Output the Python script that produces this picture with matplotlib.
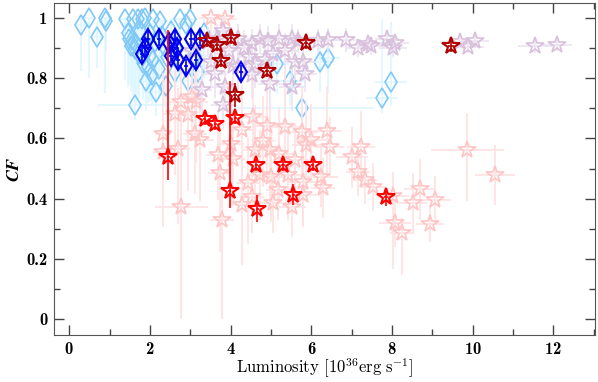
import matplotlib
matplotlib.use("Agg")
import matplotlib.pyplot as plt
from matplotlib.ticker import MultipleLocator
import numpy as np

plt.rcParams['mathtext.fontset'] = 'cm'
plt.rcParams['font.family'] = 'cmr10'
plt.rcParams['axes.formatter.use_mathtext'] = True

######################################################################
# data

# light blue diamonds
lb_x = [0.30, 0.48, 0.88, 0.90, 0.69, 1.37, 1.48, 1.58, 1.62, 1.62, 1.66, 1.70, 1.81, 1.87,
        1.91, 1.95, 1.99, 2.08, 2.08, 2.16, 2.24, 2.36, 2.61, 2.74, 2.90, 2.99, 3.11, 3.18,
        5.14, 5.47, 5.76, 6.21, 6.42, 7.76, 7.97, 1.45, 1.55, 1.75, 2.00, 2.12, 2.30, 2.42,
        2.22, 2.52, 1.72, 1.82, 2.05, 2.40, 3.35, 2.95, 1.52, 2.65]
lb_y = [0.975, 1.00, 1.00, 0.99, 0.935, 0.995, 0.93, 0.995, 0.897, 0.71, 0.913, 0.995, 0.995, 1.00,
        0.79, 0.837, 0.875, 0.86, 0.995, 0.753, 0.99, 0.908, 0.82, 0.995, 0.98, 0.995, 0.875, 0.82,
        0.847, 0.79, 0.70, 0.853, 0.867, 0.735, 0.787, 0.95, 0.925, 0.955, 0.945, 0.92, 0.94, 0.87,
        0.83, 0.955, 0.88, 0.85, 0.81, 0.775, 0.95, 0.79, 0.905, 0.90]
lb_xerr = [0.10, 0.10, 0.10, 0.10, 0.15, 0.15, 0.20, 0.15, 0.20, 0.90, 0.20, 0.15, 0.20, 0.20,
           0.20, 0.25, 0.20, 0.25, 0.20, 0.30, 0.20, 0.25, 0.30, 0.20, 0.25, 0.20, 0.30, 0.30,
           0.30, 0.40, 1.80, 0.35, 0.30, 0.40, 0.40, 0.20, 0.20, 0.20, 0.25, 0.25, 0.30, 0.30,
           0.30, 0.25, 0.20, 0.20, 0.25, 0.30, 0.40, 0.30, 0.20, 0.25]
lb_ylo = [0.15, 0.20, 0.25, 0.10, 0.10, 0.20, 0.15, 0.25, 0.15, 0.05, 0.20, 0.25, 0.20, 0.20,
          0.10, 0.12, 0.15, 0.10, 0.22, 0.08, 0.15, 0.20, 0.10, 0.20, 0.15, 0.12, 0.12, 0.10,
          0.10, 0.08, 0.05, 0.10, 0.12, 0.05, 0.08, 0.18, 0.15, 0.15, 0.20, 0.15, 0.15, 0.12,
          0.10, 0.10, 0.15, 0.12, 0.10, 0.08, 0.15, 0.10, 0.15, 0.12]
lb_yhi = [0.03, 0.00, 0.00, 0.01, 0.05, 0.00, 0.05, 0.00, 0.05, 0.05, 0.05, 0.00, 0.00, 0.00,
          0.05, 0.05, 0.05, 0.05, 0.00, 0.05, 0.01, 0.05, 0.05, 0.00, 0.02, 0.00, 0.05, 0.05,
          0.05, 0.05, 0.05, 0.05, 0.05, 0.26, 0.20, 0.05, 0.05, 0.04, 0.05, 0.05, 0.05, 0.05,
          0.05, 0.04, 0.05, 0.05, 0.05, 0.05, 0.05, 0.05, 0.05, 0.05]

# blue diamonds
db_x = [1.80, 1.87, 1.94, 2.22, 2.47, 2.53, 2.62, 2.66, 2.70, 2.90, 3.01, 3.13, 3.25, 4.25]
db_y = [0.88, 0.90, 0.93, 0.93, 0.915, 0.875, 0.93, 0.90, 0.86, 0.84, 0.93, 0.86, 0.93, 0.82]
db_xerr = [0.05] * len(db_x)
db_yerr = [0.025] * len(db_x)

# light pink stars
pk_x = [2.78, 3.03, 3.15, 2.61, 2.95, 2.32, 3.11, 2.70, 3.23, 2.33, 3.69, 4.06, 3.73, 2.78,
        3.78, 4.56, 4.27, 4.02, 4.81, 4.97, 5.34, 5.76, 5.88, 4.72, 4.43, 5.01, 5.18, 5.43,
        5.80, 4.27, 5.05, 5.51, 4.52, 6.00, 6.40, 6.46, 7.00, 7.23, 7.16, 7.33, 7.54, 6.25,
        6.29, 5.80, 8.03, 8.07, 8.24, 8.53, 8.69, 9.06, 8.94, 9.87, 10.55, 3.52, 3.85, 4.90,
        5.20, 4.60, 5.60]
pk_y = [0.72, 0.737, 0.72, 0.68, 0.677, 0.616, 0.616, 0.566, 0.594, 0.556, 0.545, 0.533, 0.484, 0.374,
        0.33, 0.672, 0.627, 0.583, 0.59, 0.561, 0.638, 0.622, 0.578, 0.479, 0.451, 0.473, 0.429, 0.479,
        0.456, 0.38, 0.385, 0.374, 0.407, 0.594, 0.625, 0.572, 0.537, 0.572, 0.49, 0.462, 0.438, 0.473,
        0.435, 0.413, 0.408, 0.319, 0.286, 0.385, 0.431, 0.396, 0.317, 0.563, 0.479, 1.00, 0.995, 0.64,
        0.55, 0.56, 0.53]
pk_xerr = [0.30, 0.25, 0.30, 0.30, 0.25, 0.20, 0.30, 0.30, 0.35, 0.25, 0.30, 0.30, 0.30, 0.65,
           0.30, 0.35, 0.30, 0.30, 0.30, 0.35, 0.40, 0.40, 0.35, 0.30, 0.30, 0.35, 0.30, 0.35,
           0.40, 0.30, 0.35, 0.35, 0.30, 0.40, 0.35, 0.35, 0.40, 0.35, 0.30, 0.30, 0.30, 0.40,
           0.30, 0.35, 0.40, 0.40, 0.30, 0.35, 0.40, 0.40, 0.35, 0.90, 0.50, 0.30, 0.30, 0.35,
           0.35, 0.30, 0.35]
pk_ylo = [0.15, 0.12, 0.20, 0.20, 0.25, 0.15, 0.20, 0.25, 0.20, 0.25, 0.15, 0.15, 0.26, 0.374,
          0.33, 0.15, 0.15, 0.20, 0.15, 0.20, 0.15, 0.15, 0.15, 0.15, 0.20, 0.15, 0.10, 0.15,
          0.15, 0.20, 0.10, 0.10, 0.12, 0.12, 0.15, 0.10, 0.10, 0.12, 0.08, 0.08, 0.08, 0.10,
          0.10, 0.10, 0.24, 0.08, 0.14, 0.10, 0.10, 0.08, 0.06, 0.17, 0.10, 0.20, 0.25, 0.15,
          0.15, 0.15, 0.12]
pk_yhi = [0.15, 0.12, 0.20, 0.20, 0.20, 0.20, 0.20, 0.20, 0.20, 0.20, 0.15, 0.15, 0.15, 0.25,
          0.10, 0.15, 0.15, 0.15, 0.15, 0.15, 0.20, 0.15, 0.15, 0.15, 0.15, 0.15, 0.10, 0.15,
          0.15, 0.15, 0.10, 0.10, 0.12, 0.12, 0.15, 0.10, 0.10, 0.12, 0.08, 0.08, 0.08, 0.10,
          0.10, 0.10, 0.08, 0.08, 0.05, 0.10, 0.10, 0.08, 0.06, 0.12, 0.10, 0.00, 0.01, 0.15,
          0.15, 0.15, 0.12]

# light purple stars
pu_x = [3.03, 3.30, 3.52, 3.61, 3.81, 3.81, 3.85, 4.19, 4.19, 4.33, 4.52, 4.52, 4.60, 4.72,
        4.93, 4.97, 5.34, 5.51, 5.51, 5.59, 5.67, 5.80, 5.84, 6.17, 6.42, 6.87, 7.16, 7.41,
        7.49, 7.87, 8.03, 8.07, 9.69, 9.89, 10.06, 11.55, 12.08, 5.05, 4.45, 4.85, 3.95, 4.05,
        3.65, 5.20, 3.45]
pu_y = [0.89, 0.762, 0.853, 0.814, 0.955, 0.71, 0.77, 0.93, 0.837, 0.90, 0.913, 0.81, 0.847, 0.93,
        0.924, 0.78, 0.89, 0.93, 0.77, 0.853, 0.924, 0.853, 0.814, 0.924, 0.926, 0.927, 0.90, 0.914,
        0.908, 0.93, 0.90, 0.916, 0.92, 0.902, 0.922, 0.905, 0.911, 0.88, 0.87, 0.86, 0.89, 0.84,
        0.93, 0.93, 0.92]
pu_xerr = [0.25, 0.25, 0.30, 0.30, 0.25, 0.30, 0.30, 0.30, 0.30, 0.30, 0.30, 0.30, 0.30, 0.30,
           0.30, 0.30, 0.35, 0.30, 0.30, 0.30, 0.35, 0.30, 0.30, 0.30, 0.30, 0.35, 0.30, 0.35,
           0.35, 0.30, 0.35, 0.35, 0.50, 0.40, 0.35, 0.42, 0.38, 0.30, 0.30, 0.30, 0.25, 0.25,
           0.25, 0.30, 0.25]
pu_yerr = [0.08, 0.08, 0.08, 0.08, 0.05, 0.08, 0.08, 0.05, 0.08, 0.06, 0.05, 0.08, 0.08, 0.05,
           0.05, 0.08, 0.06, 0.05, 0.08, 0.06, 0.04, 0.06, 0.06, 0.04, 0.04, 0.04, 0.03, 0.03,
           0.03, 0.03, 0.03, 0.03, 0.02, 0.02, 0.02, 0.02, 0.02, 0.06, 0.06, 0.06, 0.06, 0.06,
           0.05, 0.05, 0.05]

# dark red stars
dr_x = [3.42, 3.67, 4.02, 3.75, 4.91, 5.86, 4.10, 9.46]
dr_y = [0.922, 0.911, 0.933, 0.857, 0.825, 0.915, 0.745, 0.908]
dr_xerr = [0.05, 0.05, 0.05, 0.05, 0.05, 0.05, 0.05, 0.08]
dr_yerr = [0.02, 0.02, 0.02, 0.02, 0.02, 0.02, 0.04, 0.02]

# red stars
rd_x = [2.45, 3.36, 3.62, 4.12, 3.98, 4.64, 5.30, 6.03, 5.55, 4.66, 7.85]
rd_y = [0.539, 0.666, 0.649, 0.667, 0.424, 0.512, 0.512, 0.512, 0.413, 0.367, 0.406]
rd_xerr = [0.04] * len(rd_x)
rd_ylo = [0.077, 0.02, 0.02, 0.02, 0.055, 0.02, 0.02, 0.02, 0.035, 0.045, 0.03]
rd_yhi = [0.42, 0.02, 0.02, 0.02, 0.366, 0.02, 0.02, 0.02, 0.035, 0.045, 0.03]

######################################################################

fig = plt.figure(figsize=(5.98, 3.82), dpi=100)
ax = fig.add_axes([0.0908, 0.123, 0.904, 0.869])


def draw(ax, x, y, xerr, yerr, marker, ms, mcol, ecol, mew=1.2):
    ax.errorbar(x, y, xerr=xerr, yerr=yerr, fmt='none', ecolor=ecol,
                elinewidth=1.2, capsize=0)
    ax.plot(x, y, linestyle='none', marker=marker, markersize=ms,
            markerfacecolor='none', markeredgecolor=mcol, markeredgewidth=mew)


draw(ax, lb_x, lb_y, lb_xerr, [lb_ylo, lb_yhi], 'd', 10.5, '#80C8F8', '#DDF6FF')
draw(ax, pk_x, pk_y, pk_xerr, [pk_ylo, pk_yhi], '*', 13, '#FFC4C4', '#FFE2E2')
draw(ax, pu_x, pu_y, pu_xerr, pu_yerr, '*', 13, '#D9C0DC', '#ECE4F2')
draw(ax, db_x, db_y, db_xerr, db_yerr, 'd', 10, '#0000EE', '#0000EE', 1.5)
draw(ax, rd_x, rd_y, rd_xerr, [rd_ylo, rd_yhi], '*', 13, '#FF0000', '#FF0000', 1.5)
draw(ax, dr_x, dr_y, dr_xerr, dr_yerr, '*', 13, '#B00000', '#B00000', 1.5)

ax.set_xlim(-0.372, 13.03)
ax.set_ylim(-0.052, 1.049)
ax.xaxis.set_major_locator(MultipleLocator(2))
ax.xaxis.set_minor_locator(MultipleLocator(1))
ax.yaxis.set_major_locator(MultipleLocator(0.2))
ax.yaxis.set_minor_locator(MultipleLocator(0.1))
ax.tick_params(which='both', direction='in', top=True, right=True, color='#444444')
ax.tick_params(which='major', length=7.5, width=1)
ax.tick_params(which='minor', length=4.5, width=1)
ax.tick_params(axis='y', which='major', pad=5)
ax.tick_params(axis='x', which='major', pad=4)
for s in ax.spines.values():
    s.set_color('#555555')

ax.set_yticks([0, 0.2, 0.4, 0.6, 0.8, 1.0])
ax.set_yticklabels(['0', '0.2', '0.4', '0.6', '0.8', '1'])
for lab in ax.get_xticklabels() + ax.get_yticklabels():
    lab.set_fontfamily('cmb10')
    lab.set_fontsize(12)

ax.set_xlabel(r'Luminosity $[10^{36}\mathrm{erg\ s}^{-1}]$', fontsize=12, labelpad=0)
ax.set_ylabel('CF', fontfamily='STIXGeneral', fontweight='bold', fontstyle='italic',
              fontsize=13, labelpad=3)

plt.savefig('out.png', dpi=100)
